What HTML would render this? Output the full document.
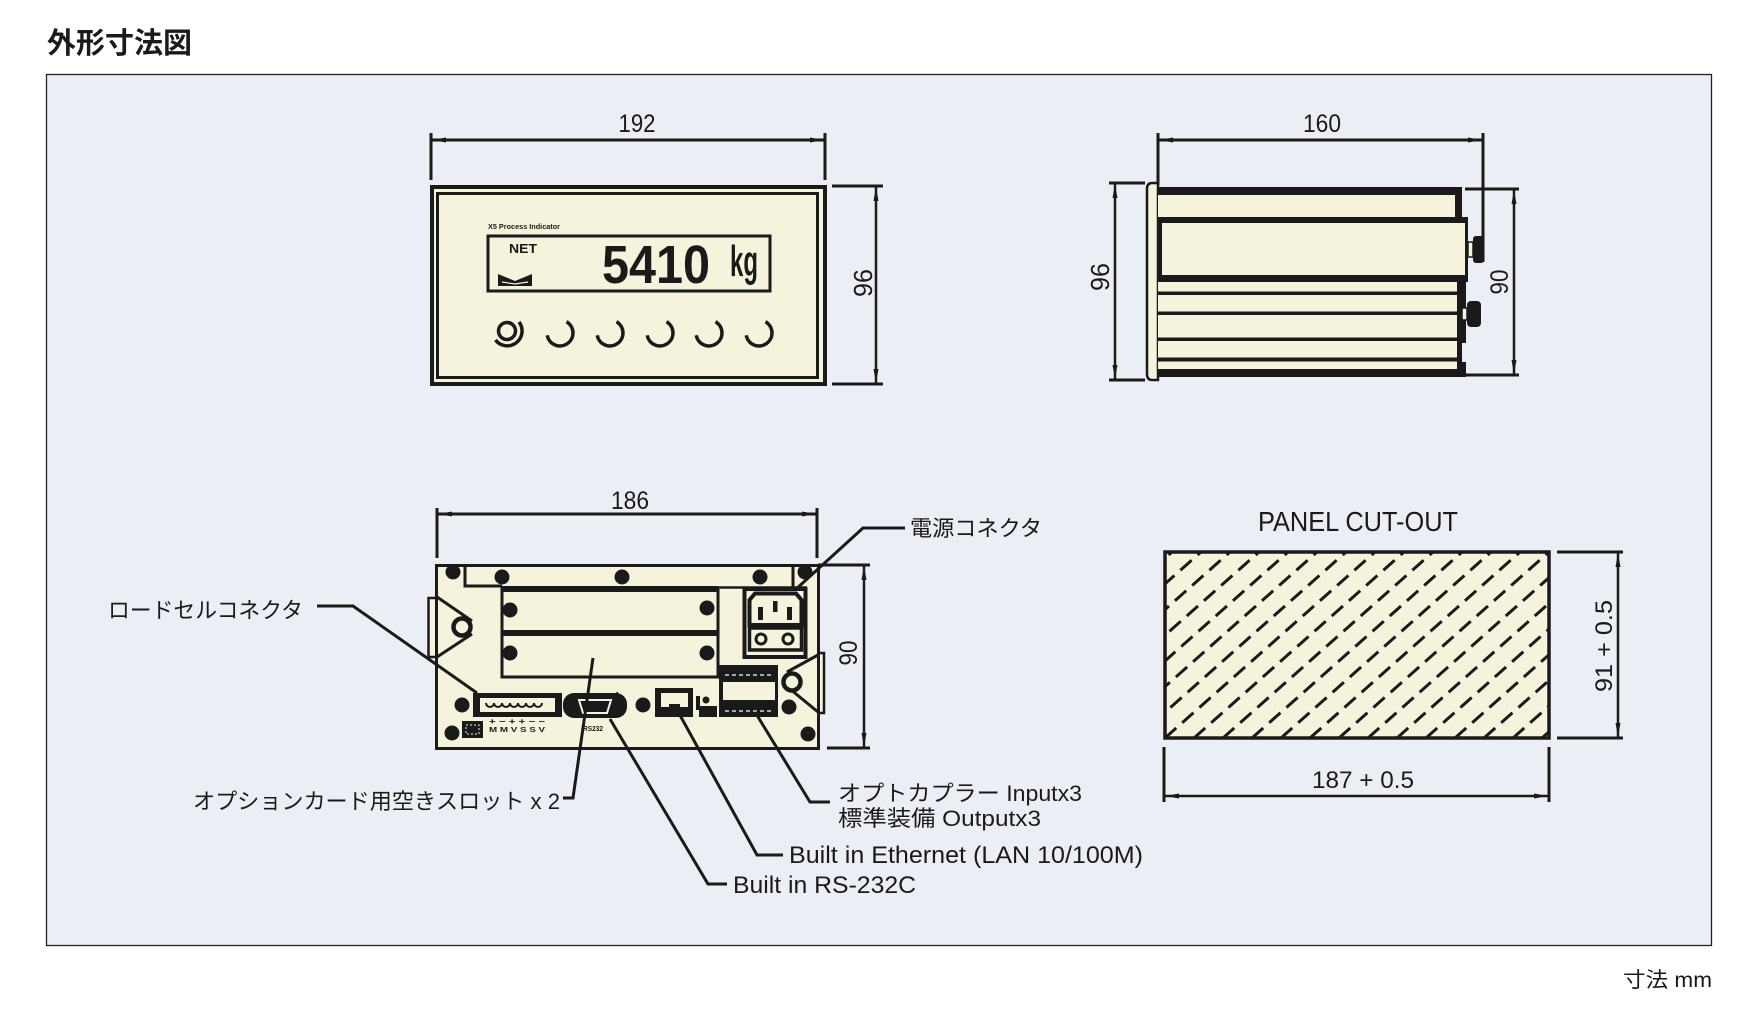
<!DOCTYPE html>
<html><head><meta charset="utf-8">
<style>
html,body{margin:0;padding:0;background:#fff;}
svg{display:block;}
text{font-family:"Liberation Sans","Noto Sans CJK JP",sans-serif;fill:#1a1a1a;}
</style></head><body>
<svg width="1758" height="1009" viewBox="0 0 1758 1009" xmlns="http://www.w3.org/2000/svg">
<defs>
<clipPath id="cut"><rect x="1165" y="552" width="384" height="186"/></clipPath>
</defs>

<!-- title -->
<text x="47" y="53" font-size="29" font-weight="bold" textLength="145" lengthAdjust="spacingAndGlyphs">外形寸法図</text>

<!-- background box -->
<rect x="46.5" y="74.5" width="1665" height="871" fill="#eceef5" stroke="#222" stroke-width="1.3"/>

<g stroke="#1a1a1a" fill="none" stroke-linecap="butt">

<!-- ============ FRONT VIEW ============ -->
<!-- 192 dim -->
<line x1="431" y1="133" x2="431" y2="180" stroke-width="3"/>
<line x1="825" y1="133" x2="825" y2="180" stroke-width="3"/>
<line x1="431" y1="140" x2="825" y2="140" stroke-width="3"/>
<path d="M432 140 L446 137.5 L446 142.5 Z M824 140 L810 137.5 L810 142.5 Z" fill="#1a1a1a" stroke="none"/>

<rect x="432" y="187" width="393" height="197" fill="#f6f3dd" stroke-width="4"/>
<rect x="437.5" y="193.5" width="380" height="184" stroke-width="3"/>
<rect x="488" y="236" width="282" height="55" stroke-width="3"/>

<!-- pan icon -->
<path d="M498 274 L515 281 L532 274 L532 286 L498 286 Z" fill="#1a1a1a" stroke="none"/>
<path d="M502 282 L515 284 L528 282" stroke="#f6f3dd" stroke-width="1.2"/>

<!-- buttons -->
<circle cx="507" cy="331" r="8.5" stroke-width="3.5"/>
<path d="M495.5 340 A14 14 0 0 0 519 322" stroke-width="3.5"/>
<path d="M547.2 335.3 A13 13 0 1 0 566.5 321.7" stroke-width="3.5"/>
<path d="M597.2 335.3 A13 13 0 1 0 616.5 321.7" stroke-width="3.5"/>
<path d="M647.2 335.3 A13 13 0 1 0 666.5 321.7" stroke-width="3.5"/>
<path d="M696.2 335.3 A13 13 0 1 0 715.5 321.7" stroke-width="3.5"/>
<path d="M746.2 335.3 A13 13 0 1 0 765.5 321.7" stroke-width="3.5"/>

<!-- 96 dim front -->
<line x1="832" y1="186" x2="883" y2="186" stroke-width="3"/>
<line x1="832" y1="384" x2="883" y2="384" stroke-width="3"/>
<line x1="876" y1="186" x2="876" y2="384" stroke-width="2.5"/>
<path d="M876 187 L873.5 201 L878.5 201 Z M876 383 L873.5 369 L878.5 369 Z" fill="#1a1a1a" stroke="none"/>

<!-- ============ SIDE VIEW ============ -->
<line x1="1158" y1="133" x2="1158" y2="185" stroke-width="3"/>
<line x1="1483" y1="133" x2="1483" y2="262" stroke-width="3"/>
<line x1="1158" y1="140" x2="1483" y2="140" stroke-width="3"/>
<path d="M1159 140 L1173 137.5 L1173 142.5 Z M1482 140 L1468 137.5 L1468 142.5 Z" fill="#1a1a1a" stroke="none"/>

<path d="M1158 183 L1152 183 Q1147 183 1147 189 L1147 374 Q1147 380 1152 380 L1158 380 Z" fill="#f6f3dd" stroke-width="2.5"/>
<rect x="1158" y="187" width="304" height="190" fill="#f6f3dd" stroke="none"/>
<rect x="1158" y="217" width="310" height="65" fill="#f6f3dd" stroke="none"/>
<g fill="#1a1a1a" stroke="none">
<rect x="1158" y="187" width="304" height="8"/>
<rect x="1455" y="187" width="7" height="30"/>
<rect x="1158" y="217" width="310" height="6"/>
<rect x="1158" y="275" width="310" height="7"/>
<rect x="1465" y="217" width="3" height="65"/>
<rect x="1158" y="217" width="4" height="65"/>
<rect x="1158" y="291.5" width="300" height="3.5"/>
<rect x="1158" y="311.5" width="300" height="3.5"/>
<rect x="1158" y="337.5" width="300" height="3.5"/>
<rect x="1158" y="357.5" width="300" height="4"/>
<rect x="1158" y="369" width="304" height="8"/>
<rect x="1457" y="282" width="5" height="95"/>
<rect x="1457" y="282" width="9" height="61"/>
<rect x="1457" y="362" width="9" height="15"/>
<rect x="1473" y="236" width="11" height="27" rx="3"/>
<rect x="1467" y="301" width="14" height="26" rx="4"/>
</g>
<rect x="1468" y="242" width="5" height="15" fill="#f6f3dd" stroke-width="1.5"/>
<rect x="1462" y="308" width="5" height="12" fill="#f6f3dd" stroke-width="1.5"/>

<!-- 96 dim side -->
<line x1="1109" y1="183" x2="1145" y2="183" stroke-width="3"/>
<line x1="1109" y1="380" x2="1145" y2="380" stroke-width="3"/>
<line x1="1115" y1="183" x2="1115" y2="380" stroke-width="2.5"/>
<path d="M1115 184 L1112.5 198 L1117.5 198 Z M1115 379 L1112.5 365 L1117.5 365 Z" fill="#1a1a1a" stroke="none"/>
<!-- 90 dim side -->
<line x1="1465" y1="189" x2="1519" y2="189" stroke-width="3"/>
<line x1="1463" y1="375" x2="1519" y2="375" stroke-width="3"/>
<line x1="1514" y1="189" x2="1514" y2="375" stroke-width="2.5"/>
<path d="M1514 190 L1511.5 204 L1516.5 204 Z M1514 374 L1511.5 360 L1516.5 360 Z" fill="#1a1a1a" stroke="none"/>

<!-- ============ BACK VIEW ============ -->
<line x1="437" y1="508" x2="437" y2="558" stroke-width="3"/>
<line x1="817" y1="508" x2="817" y2="558" stroke-width="3"/>
<line x1="437" y1="514" x2="817" y2="514" stroke-width="3"/>
<path d="M438 514 L452 511.5 L452 516.5 Z M816 514 L802 511.5 L802 516.5 Z" fill="#1a1a1a" stroke="none"/>

<!-- brackets (behind) -->
<rect x="428.5" y="598" width="8" height="59" fill="#f6f3dd" stroke-width="2.5"/>
<rect x="817" y="653" width="7" height="60" fill="#f6f3dd" stroke-width="2.5"/>

<rect x="436.5" y="565.5" width="382" height="183" fill="#f6f3dd" stroke-width="3"/>

<!-- left bracket lines & ring -->
<path d="M437 597 L472 621 M472 634 L437 657" stroke-width="3"/>
<circle cx="462" cy="627" r="8.5" stroke-width="4.5" fill="#f6f3dd"/>
<!-- right bracket -->
<path d="M818 655 L787 672 M790 689 L818 712" stroke-width="3"/>
<circle cx="792" cy="682" r="8.5" stroke-width="4.5" fill="#f6f3dd"/>

<!-- top plate -->
<path d="M465 565 L465 586 L502 586" stroke-width="3"/>
<path d="M793 565 L793 587" stroke-width="3"/>
<line x1="718" y1="587.5" x2="807" y2="587.5" stroke-width="2.5"/>
<!-- slot area -->
<path d="M502 587 L502 677 L718 677 L718 665" stroke-width="3"/>
<line x1="718" y1="587" x2="718" y2="665" stroke-width="3"/>
<g fill="#1a1a1a" stroke="none">
<rect x="502" y="586" width="216" height="6"/>
<rect x="502" y="630" width="216" height="6"/>
</g>

<!-- power connector -->
<rect x="744.5" y="589" width="61" height="68" stroke-width="4"/>
<path d="M755 593.5 L796 593.5 L801.5 600 L801.5 625 L749.5 625 L749.5 600 Z" stroke-width="4"/>
<g fill="#1a1a1a" stroke="none">
<rect x="758" y="607" width="5" height="13"/>
<rect x="773" y="601" width="4.5" height="11"/>
<rect x="787" y="607" width="5" height="13"/>
</g>
<rect x="749.5" y="628" width="52" height="22" stroke-width="3.5"/>
<circle cx="761" cy="639" r="5" stroke-width="3"/>
<circle cx="788" cy="639" r="5" stroke-width="3"/>

<!-- IO terminal -->
<rect x="719" y="665" width="59" height="52" fill="#1a1a1a" stroke="none"/>
<rect x="723" y="682" width="52" height="18" fill="#f6f3dd" stroke="none"/>
<line x1="725" y1="675" x2="773" y2="675" stroke="#fff" stroke-width="1.3" stroke-dasharray="4 3"/>
<line x1="725" y1="711" x2="773" y2="711" stroke="#fff" stroke-width="1.3" stroke-dasharray="4 3"/>

<!-- ethernet -->
<rect x="655" y="688" width="38" height="29" fill="#1a1a1a" stroke="none"/>
<rect x="661" y="693" width="27" height="11" fill="#f6f3dd" stroke="none"/>
<rect x="661" y="704" width="8" height="3" fill="#f6f3dd" stroke="none"/>
<rect x="680" y="704" width="8" height="3" fill="#f6f3dd" stroke="none"/>
<g fill="#1a1a1a" stroke="none">
<rect x="696" y="696" width="4" height="14"/>
<rect x="699" y="706" width="18" height="11"/>
<circle cx="706" cy="700" r="3.5"/>
</g>

<!-- load cell connector -->
<rect x="473" y="693" width="89" height="24" fill="#1a1a1a" stroke="none"/>
<rect x="480" y="698" width="75" height="14" fill="#f6f3dd" stroke="none"/>
<path d="M486 703 a4 4 0 0 0 8 0 a4 4 0 0 0 8 0 a4 4 0 0 0 8 0 a4 4 0 0 0 8 0 a4 4 0 0 0 8 0 a4 4 0 0 0 8 0 a4 4 0 0 0 8 0" stroke-width="2"/>

<!-- D-sub -->
<rect x="563" y="693" width="64" height="25" rx="11" fill="#1a1a1a" stroke="none"/>
<path d="M579 700 L611 700 L607 713 L583 713 Z" stroke="#f6f3dd" stroke-width="2"/>

<!-- bottom-left block -->
<rect x="462" y="721" width="21" height="17" fill="#1a1a1a" stroke="none"/>
<rect x="466" y="725" width="13" height="9" stroke="#f6f3dd" stroke-width="1" stroke-dasharray="2 2"/>

<!-- screws -->
<g fill="#1a1a1a" stroke="none">
<circle cx="453" cy="572" r="7.5"/>
<circle cx="502" cy="577" r="7.5"/>
<circle cx="622" cy="577" r="7.5"/>
<circle cx="760" cy="577" r="7.5"/>
<circle cx="805" cy="572" r="7.5"/>
<circle cx="510" cy="610" r="7.5"/>
<circle cx="707" cy="608" r="7.5"/>
<circle cx="510" cy="653" r="7.5"/>
<circle cx="707" cy="653" r="7.5"/>
<circle cx="462" cy="705" r="7.5"/>
<circle cx="643" cy="705" r="7.5"/>
<circle cx="789" cy="707" r="7.5"/>
<circle cx="452" cy="733" r="7.5"/>
<circle cx="808" cy="734" r="7.5"/>
</g>

<!-- 90 dim back -->
<line x1="818" y1="565" x2="870" y2="565" stroke-width="3"/>
<line x1="827" y1="748" x2="870" y2="748" stroke-width="3"/>
<line x1="864" y1="565" x2="864" y2="748" stroke-width="2.5"/>
<path d="M864 566 L861.5 580 L866.5 580 Z M864 747 L861.5 733 L866.5 733 Z" fill="#1a1a1a" stroke="none"/>

<!-- leaders -->
<g stroke-width="3" stroke-linejoin="miter">
<polyline points="905,528 863,528 795,590"/>
<polyline points="317,606 353,606 477,693"/>
<polyline points="563,798 573,798 593,658"/>
<polyline points="610,719 708,884 727,884"/>
<polyline points="676,708 757,855 783,855"/>
<polyline points="755,712 810,802 830,802"/>
</g>

<!-- ============ PANEL CUT-OUT ============ -->
<rect x="1165" y="552" width="384" height="186" fill="#f6f3dd" stroke="none"/>
<g clip-path="url(#cut)" stroke-width="3" stroke-dasharray="15 8">
<line x1="875" y1="738" x2="1085" y2="552"/>
<line x1="904" y1="738" x2="1114" y2="552"/>
<line x1="933" y1="738" x2="1143" y2="552"/>
<line x1="962" y1="738" x2="1172" y2="552"/>
<line x1="991" y1="738" x2="1201" y2="552"/>
<line x1="1020" y1="738" x2="1230" y2="552"/>
<line x1="1049" y1="738" x2="1259" y2="552"/>
<line x1="1078" y1="738" x2="1288" y2="552"/>
<line x1="1107" y1="738" x2="1317" y2="552"/>
<line x1="1136" y1="738" x2="1346" y2="552"/>
<line x1="1165" y1="738" x2="1375" y2="552"/>
<line x1="1194" y1="738" x2="1404" y2="552"/>
<line x1="1223" y1="738" x2="1433" y2="552"/>
<line x1="1252" y1="738" x2="1462" y2="552"/>
<line x1="1281" y1="738" x2="1491" y2="552"/>
<line x1="1310" y1="738" x2="1520" y2="552"/>
<line x1="1339" y1="738" x2="1549" y2="552"/>
<line x1="1368" y1="738" x2="1578" y2="552"/>
<line x1="1397" y1="738" x2="1607" y2="552"/>
<line x1="1426" y1="738" x2="1636" y2="552"/>
<line x1="1455" y1="738" x2="1665" y2="552"/>
<line x1="1484" y1="738" x2="1694" y2="552"/>
<line x1="1513" y1="738" x2="1723" y2="552"/>
<line x1="1542" y1="738" x2="1752" y2="552"/>
</g>
<rect x="1165" y="552" width="384" height="186" stroke-width="3.5"/>

<!-- 91 dim -->
<line x1="1557" y1="552" x2="1623" y2="552" stroke-width="3"/>
<line x1="1557" y1="738" x2="1623" y2="738" stroke-width="3"/>
<line x1="1618" y1="552" x2="1618" y2="738" stroke-width="2.5"/>
<path d="M1618 553 L1615.5 567 L1620.5 567 Z M1618 737 L1615.5 723 L1620.5 723 Z" fill="#1a1a1a" stroke="none"/>
<!-- 187 dim -->
<line x1="1164" y1="747" x2="1164" y2="802" stroke-width="3"/>
<line x1="1549" y1="747" x2="1549" y2="802" stroke-width="3"/>
<line x1="1164" y1="796" x2="1549" y2="796" stroke-width="2.5"/>
<path d="M1165 796 L1179 793.5 L1179 798.5 Z M1548 796 L1534 793.5 L1534 798.5 Z" fill="#1a1a1a" stroke="none"/>
</g>

<!-- ============ TEXT ============ -->
<!-- front panel -->
<text x="488" y="229" font-size="7" font-weight="bold" textLength="72" lengthAdjust="spacingAndGlyphs">X5 Process Indicator</text>
<text x="509" y="253" font-size="13" font-weight="bold" textLength="28" lengthAdjust="spacingAndGlyphs">NET</text>
<text x="602" y="283" font-size="54" font-weight="bold" textLength="108" lengthAdjust="spacingAndGlyphs">5410</text>
<text x="730" y="276" font-size="44" font-weight="bold" textLength="28" lengthAdjust="spacingAndGlyphs">kg</text>

<!-- dims -->
<text x="637" y="132" font-size="25" text-anchor="middle" textLength="37" lengthAdjust="spacingAndGlyphs">192</text>
<text x="1322" y="132" font-size="25" text-anchor="middle" textLength="38" lengthAdjust="spacingAndGlyphs">160</text>
<text x="630" y="509" font-size="25" text-anchor="middle" textLength="38" lengthAdjust="spacingAndGlyphs">186</text>
<text x="1363" y="788" font-size="24" text-anchor="middle" textLength="102" lengthAdjust="spacingAndGlyphs">187 + 0.5</text>
<text transform="translate(872,283) rotate(-90)" font-size="26" text-anchor="middle" textLength="28" lengthAdjust="spacingAndGlyphs">96</text>
<text transform="translate(1109,277) rotate(-90)" font-size="26" text-anchor="middle" textLength="28" lengthAdjust="spacingAndGlyphs">96</text>
<text transform="translate(1508,282) rotate(-90)" font-size="25" text-anchor="middle" textLength="25" lengthAdjust="spacingAndGlyphs">90</text>
<text transform="translate(857,653) rotate(-90)" font-size="25" text-anchor="middle" textLength="25" lengthAdjust="spacingAndGlyphs">90</text>
<text transform="translate(1612,646) rotate(-90)" font-size="24" text-anchor="middle" textLength="92" lengthAdjust="spacingAndGlyphs">91 + 0.5</text>
<text x="1358" y="531" font-size="28" text-anchor="middle" textLength="200" lengthAdjust="spacingAndGlyphs">PANEL CUT-OUT</text>

<!-- back panel small labels -->
<text x="489" y="724" font-size="8" font-weight="bold" textLength="56" lengthAdjust="spacingAndGlyphs">+ − + + − −</text>
<text x="489" y="732" font-size="7" font-weight="bold" textLength="56" lengthAdjust="spacingAndGlyphs">M M V S S V</text>
<text x="583" y="731" font-size="7" font-weight="bold" textLength="20" lengthAdjust="spacingAndGlyphs">RS232</text>
<text x="615" y="698" font-size="8" font-weight="bold">1</text>

<!-- labels -->
<text x="910" y="536" font-size="22" textLength="132" lengthAdjust="spacingAndGlyphs">電源コネクタ</text>
<text x="108" y="618" font-size="22" textLength="195" lengthAdjust="spacingAndGlyphs">ロードセルコネクタ</text>
<text x="193" y="809" font-size="22" textLength="367" lengthAdjust="spacingAndGlyphs">オプションカード用空きスロット x 2</text>
<text x="838" y="801" font-size="22" textLength="244" lengthAdjust="spacingAndGlyphs">オプトカプラー Inputx3</text>
<text x="838" y="826" font-size="22" textLength="203" lengthAdjust="spacingAndGlyphs">標準装備 Outputx3</text>
<text x="789" y="863" font-size="24" textLength="354" lengthAdjust="spacingAndGlyphs">Built in Ethernet (LAN 10/100M)</text>
<text x="733" y="893" font-size="24" textLength="183" lengthAdjust="spacingAndGlyphs">Built in RS-232C</text>

<text x="1712" y="987" font-size="21" text-anchor="end" textLength="89" lengthAdjust="spacingAndGlyphs">寸法 mm</text>
</svg>
</body></html>
